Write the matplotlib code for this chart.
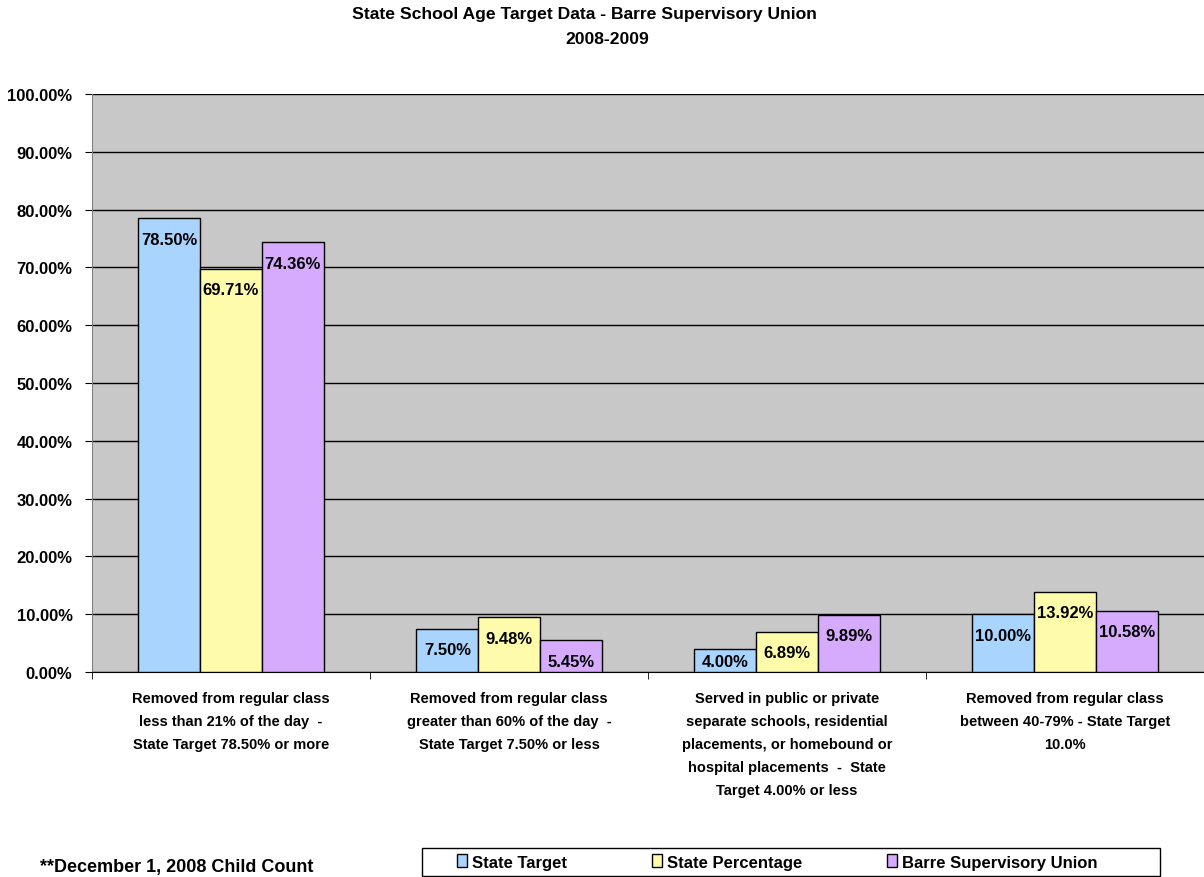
import numpy as np
import matplotlib.pyplot as plt
from matplotlib.patches import Patch, Rectangle

categories = [
    "Removed from regular class\nless than 21% of the day  -\nState Target 78.50% or more",
    "Removed from regular class\ngreater than 60% of the day  -\nState Target 7.50% or less",
    "Served in public or private\nseparate schools, residential\nplacements, or homebound or\nhospital placements  -  State\nTarget 4.00% or less",
    "Removed from regular class\nbetween 40-79% - State Target\n10.0%",
]
series_names = ["State Target", "State Percentage", "Barre Supervisory Union"]
state_target = [78.50, 7.50, 4.00, 10.00]
state_pct = [69.71, 9.48, 6.89, 13.92]
barre_su = [74.36, 5.45, 9.89, 10.58]
y_ticks = [0, 10, 20, 30, 40, 50, 60, 70, 80, 90, 100]

colors = ["#A9D4FE", "#FEFCAA", "#D6ABFD"]

plt.rcParams["font.family"] = ["Liberation Sans", "DejaVu Sans"]
plt.rcParams["font.weight"] = "bold"

fig = plt.figure(figsize=(12.04, 8.78), dpi=100)
ax = fig.add_axes([92 / 1204, 1 - 673 / 878, 1 - 92 / 1204, (673 - 95) / 878])
ax.set_facecolor("#C8C8C8")

x = np.arange(len(categories))
width = 0.222
for i, (vals, col) in enumerate(zip([state_target, state_pct, barre_su], colors)):
    pos = x + (i - 1) * width
    bars = ax.bar(pos, vals, width, color=col, edgecolor="black", linewidth=1, zorder=3)
    for b, v in zip(bars, vals):
        # label sits just inside the top end, kept above the axis for short bars
        ax.text(b.get_x() + b.get_width() / 2, max(v - 3.6, 1.9), f"{v:.2f}%",
                ha="center", va="center", fontsize=12, fontweight="bold", zorder=4)

ax.set_xlim(-0.5, len(categories) - 0.5)
ax.set_ylim(0, 100)
ax.set_yticks(y_ticks)
ax.set_yticklabels([f"{t:.2f}%" for t in y_ticks], fontsize=12, fontweight="bold")
ax.yaxis.grid(True, color="black", linewidth=1, zorder=0)
ax.set_axisbelow(True)

ax.set_xticks(x)
ax.set_xticklabels(categories, fontsize=10.5, fontweight="bold", linespacing=1.8)
ax.tick_params(axis="x", length=0, pad=14)
ax.set_xticks(np.arange(-0.5, len(categories)), minor=True)
ax.tick_params(axis="x", which="minor", length=5, direction="out")
ax.tick_params(axis="y", length=5, direction="out", pad=9)

for s in ["top", "right"]:
    ax.spines[s].set_visible(False)
ax.spines["left"].set_color("#808080")
ax.spines["bottom"].set_color("black")

fig.text(584 / 1204, 1 - 15 / 878, "State School Age Target Data - Barre Supervisory Union",
         ha="center", va="center", fontsize=12.6, fontweight="bold")
fig.text(607 / 1204, 1 - 39 / 878, "2008-2009",
         ha="center", va="center", fontsize=12.6, fontweight="bold")

# legend box drawn on its own, entries placed inside it
fig.patches.append(Rectangle((422 / 1204, 1 - 877 / 878), (1160 - 422) / 1204, 28 / 878,
                             transform=fig.transFigure, facecolor="white",
                             edgecolor="black", linewidth=1, zorder=1))
handles = [Patch(facecolor=c, edgecolor="black", label=n) for c, n in zip(colors, series_names)]
leg = fig.legend(handles=handles, loc="center left", bbox_to_anchor=(457 / 1204, 1 - 863 / 878),
                 ncol=3, frameon=False, fontsize=12, handlelength=0.6,
                 handleheight=0.8, handletextpad=0.3, columnspacing=5.1, borderpad=0,
                 borderaxespad=0)
for t in leg.get_texts():
    t.set_fontweight("bold")

fig.text(40 / 1204, 1 - 868 / 878, "**December 1, 2008 Child Count", ha="left", va="center",
         fontsize=13, fontweight="bold")

fig.savefig("out.png", dpi=100)
